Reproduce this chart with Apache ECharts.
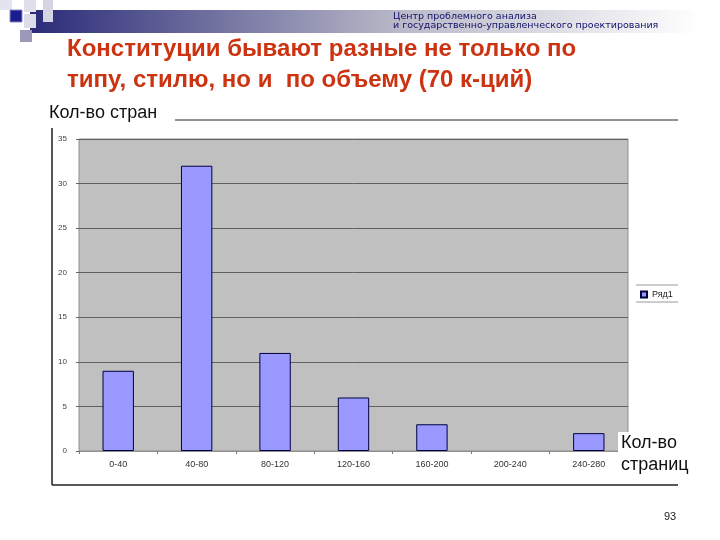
<!DOCTYPE html>
<html>
<head>
<meta charset="utf-8">
<script src="https://cdn.jsdelivr.net/npm/echarts@6/dist/echarts.min.js"></script>
<style>
html,body{margin:0;padding:0;background:#fff;}
#main{width:720px;height:540px;}
</style>
</head>
<body>
<div id="main"></div>
<script>
const categories = ['0-40','40-80','80-120','120-160','160-200','200-240','240-280'];
const values = [9, 32, 11, 6, 3, 0, 2];
const seriesName = 'Ряд1';
const yMin = 0, yMax = 35, yStep = 5;
const titleLines = ['Конституции бывают разные не только по', 'типу, стилю, но и  по объему (70 к-ций)'];
const headerLines = ['Центр проблемного анализа', 'и государственно-управленческого проектирования'];
const yAxisTitle = 'Кол-во стран';
const xAxisTitle = 'Кол-во\nстраниц';
const pageNumber = '93';

const chart = echarts.init(document.getElementById('main'));
const font = 'Liberation Sans, Arial, sans-serif';

chart.setOption({
  animation: false,
  backgroundColor: '#fff',
  grid: {
    left: 79, right: 92, top: 139, bottom: 89,
    show: true, backgroundColor: '#c0c0c0', borderColor: '#909090', borderWidth: 1
  },
  legend: {
    show: true,
    data: [seriesName],
    left: 638, top: 288,
    itemWidth: 6, itemHeight: 6, itemGap: 4,
    icon: 'rect',
    textStyle: { fontSize: 9, color: '#222', fontFamily: font },
    padding: [2, 2, 2, 2]
  },
  xAxis: {
    type: 'category',
    data: categories,
    axisLine: { show: true, lineStyle: { color: '#909090' } },
    axisTick: { show: true, length: 3, lineStyle: { color: '#777' } },
    axisLabel: { fontSize: 9, color: '#333', fontFamily: font, margin: 9 }
  },
  yAxis: {
    type: 'value',
    min: yMin, max: yMax, interval: yStep,
    axisLine: { show: false },
    axisTick: { show: true, length: 3, lineStyle: { color: '#666' } },
    splitLine: { show: true, lineStyle: { color: '#606060', width: 1 } },
    axisLabel: { fontSize: 8, color: '#444', fontFamily: font, margin: 12 }
  },
  series: [{
    name: seriesName,
    type: 'bar',
    data: values.map(v => v === 0 ? { value: v, itemStyle: { borderWidth: 0, opacity: 0 } } : v),
    barWidth: '40%',
    itemStyle: { color: '#9999ff', borderColor: '#000040', borderWidth: 1 }
  }],
  graphic: [
    { type: 'rect', shape: { x: 30, y: 10, width: 670, height: 23 }, z: -1,
      style: { fill: new echarts.graphic.LinearGradient(0, 0, 1, 0, [
        { offset: 0, color: '#2a2a78' }, { offset: 0.55, color: '#b8b8c8' }, { offset: 1, color: '#ffffff' }]) } },
    { type: 'rect', shape: { x: 0, y: 0, width: 12, height: 10 }, style: { fill: '#e4e4f0' } },
    { type: 'rect', shape: { x: 24, y: 0, width: 12, height: 12 }, style: { fill: '#e0e0ea' } },
    { type: 'rect', shape: { x: 43, y: 0, width: 10, height: 22 }, style: { fill: '#d4d4e2' } },
    { type: 'rect', shape: { x: 24, y: 14, width: 12, height: 14 }, style: { fill: '#dcdce8' } },
    { type: 'rect', shape: { x: 10, y: 10, width: 12, height: 12 }, style: { fill: '#1c1c8c', stroke: '#8888cc', lineWidth: 1 } },
    { type: 'rect', shape: { x: 20, y: 30, width: 12, height: 12 }, style: { fill: '#9a9ab8' } },
    { type: 'text', left: 393, top: 12, style: { text: headerLines[0], font: '9.5px DejaVu Sans, sans-serif', fill: '#10106a' } },
    { type: 'text', left: 393, top: 21, style: { text: headerLines[1], font: '9.5px DejaVu Sans, sans-serif', fill: '#10106a' } },
    { type: 'text', left: 67, top: 37, style: { text: titleLines[0], font: 'bold 24px ' + font, fill: '#cc3311' } },
    { type: 'text', left: 67, top: 68, style: { text: titleLines[1], font: 'bold 24px ' + font, fill: '#cc3311' } },
    { type: 'line', shape: { x1: 175, y1: 120, x2: 678, y2: 120 }, style: { stroke: '#222', lineWidth: 1 } },
    { type: 'line', shape: { x1: 52, y1: 128, x2: 52, y2: 485 }, style: { stroke: '#555', lineWidth: 2 } },
    { type: 'line', shape: { x1: 52, y1: 485, x2: 678, y2: 485 }, style: { stroke: '#222', lineWidth: 1.5 } },
    { type: 'line', shape: { x1: 636, y1: 285, x2: 678, y2: 285 }, style: { stroke: '#999', lineWidth: 1 } },
    { type: 'line', shape: { x1: 636, y1: 302, x2: 678, y2: 302 }, style: { stroke: '#999', lineWidth: 1 } },
    { type: 'text', left: 49, top: 104, style: { text: yAxisTitle, font: '18px ' + font, fill: '#111' } },
    { type: 'text', left: 618, top: 432, z: 10,
      style: { text: xAxisTitle, font: '18px ' + font, fill: '#111', lineHeight: 22, backgroundColor: '#fff', padding: [0, 2, 0, 3] } },
    { type: 'text', left: 664, top: 511, style: { text: pageNumber, font: '11px ' + font, fill: '#222' } }
  ]
});
</script>
</body>
</html>
